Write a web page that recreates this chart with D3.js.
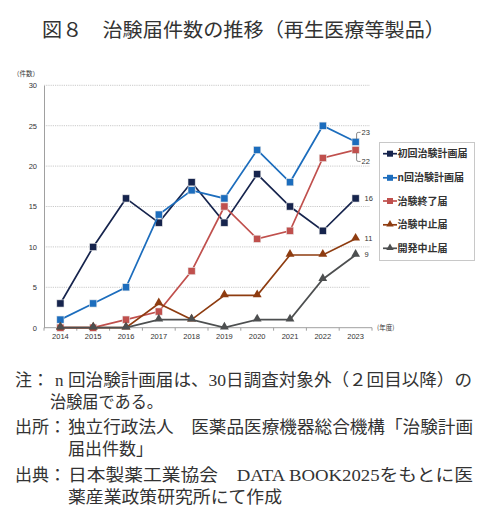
<!DOCTYPE html>
<html><head>
<meta charset="utf-8">
<script src="https://cdnjs.cloudflare.com/ajax/libs/d3/7.8.5/d3.min.js"></script>
<style>
  body { margin: 0; background: #fff; }
  .tick-label { font-family: "Liberation Sans", Arial, sans-serif; font-size: 7.5px; fill: #333; }
  .legend-text { font-family: "Noto Sans CJK JP", sans-serif; font-size: 10px; font-weight: bold; fill: #333; }
  .note { font-family: "Liberation Serif", "Noto Sans CJK JP", serif; font-size: 17px; fill: #333; font-weight: normal; }
</style>
</head>
<body>
<script>
// data
var years = ["2014", "2015", "2016", "2017", "2018", "2019", "2020", "2021", "2022", "2023"];
var firstPlan = [3, 10, 16, 13, 18, 13, 19, 15, 12, 16];
var nthPlan = [1, 3, 5, 14, 17, 16, 22, 18, 25, 23];
var endNotice = [0, 0, 1, 2, 7, 15, 11, 12, 21, 22];
var stopNotice = [0, 0, 0, 3, 1, 4, 4, 9, 9, 11];
var devStop = [0, 0, 0, 1, 1, 0, 1, 1, 6, 9];
var seriesNames = ["初回治験計画届", "n回治験計画届", "治験終了届", "治験中止届", "開発中止届"];
var yTicks = [0, 5, 10, 15, 20, 25, 30];

var colors = ["#16244d", "#1c6dbd", "#c0504d", "#8e3c10", "#4d4f50"];
var shapes = ["square", "square", "square", "triangle", "triangle"];
var allSeries = [firstPlan, nthPlan, endNotice, stopNotice, devStop];

var svg = d3.select("body").append("svg")
    .attr("width", 500)
    .attr("height", 528);

var plotLeft = 44, plotRight = 372, plotTop = 85.3, plotBottom = 327.7;

var x = d3.scalePoint().domain(years).range([plotLeft, plotRight]).padding(0.5);
var y = d3.scaleLinear().domain([0, 30]).range([plotBottom, plotTop]);

// title
svg.append("text")
    .attr("x", 42).attr("y", 37)
    .attr("textLength", 403).attr("lengthAdjust", "spacingAndGlyphs")
    .style("font-family", "'Noto Sans CJK JP', sans-serif")
    .style("font-size", "19.5px")
    .style("fill", "#333")
    .text("図８　治験届件数の推移（再生医療等製品）");

// gridlines
svg.append("g").selectAll("line")
    .data(yTicks.filter(function(d) { return d > 0; }))
    .enter().append("line")
    .attr("x1", plotLeft).attr("x2", 370)
    .attr("y1", function(d) { return y(d); })
    .attr("y2", function(d) { return y(d); })
    .attr("stroke", "#bdbdbd")
    .attr("stroke-width", 0.8)
    .attr("stroke-dasharray", "1.2,1");

// y axis
var yAxis = d3.axisLeft(y).tickValues(yTicks).tickSize(0).tickPadding(7);
var gy = svg.append("g").attr("transform", "translate(" + plotLeft + ",0)").call(yAxis);
gy.select(".domain").attr("stroke", "#a0a0a0").attr("stroke-width", 1);
gy.selectAll("text").attr("class", "tick-label").attr("font-family", null).attr("font-size", null);

// x axis: ticks at category boundaries
var step = x.step();
var gx = svg.append("g").attr("transform", "translate(0," + plotBottom + ")");
gx.append("line").attr("x1", plotLeft).attr("x2", plotRight).attr("stroke", "#a0a0a0").attr("stroke-width", 1);
gx.selectAll("line.tk").data(d3.range(years.length + 1)).enter().append("line")
    .attr("class", "tk")
    .attr("x1", function(i) { return plotLeft + i * step; })
    .attr("x2", function(i) { return plotLeft + i * step; })
    .attr("y1", 0).attr("y2", 3)
    .attr("stroke", "#a0a0a0");
gx.selectAll("text").data(years).enter().append("text")
    .attr("class", "tick-label")
    .attr("x", function(d) { return x(d); })
    .attr("y", 11.5)
    .attr("text-anchor", "middle")
    .text(function(d) { return d; });

// axis unit labels
svg.append("text").attr("class", "tick-label")
    .attr("x", 13).attr("y", 75.5)
    .style("font-size", "6.5px")
    .style("font-family", "'Noto Sans CJK JP', sans-serif")
    .text("（件数）");
svg.append("text").attr("class", "tick-label")
    .attr("x", 377).attr("y", 329.5)
    .style("font-size", "6.5px")
    .style("font-family", "'Noto Sans CJK JP', sans-serif")
    .text("(年度)");

// lines and markers
var line = d3.line()
    .x(function(d, i) { return x(years[i]); })
    .y(function(d) { return y(d); });

var tri = d3.symbol().type(d3.symbolTriangle).size(34);

allSeries.forEach(function(vals, k) {
    var g = svg.append("g");
    g.append("path")
        .attr("d", line(vals))
        .attr("fill", "none")
        .attr("stroke", colors[k])
        .attr("stroke-width", 1.7);
    if (shapes[k] === "square") {
        g.selectAll("rect").data(vals).enter().append("rect")
            .attr("x", function(d, i) { return x(years[i]) - 3.6; })
            .attr("y", function(d) { return y(d) - 3.6; })
            .attr("width", 7.2).attr("height", 7.2)
            .attr("fill", colors[k])
            .attr("stroke", "#e8e8e8")
            .attr("stroke-width", 0.6);
    } else {
        g.selectAll("path.m").data(vals).enter().append("path")
            .attr("class", "m")
            .attr("d", tri)
            .attr("transform", function(d, i) { return "translate(" + x(years[i]) + "," + (y(d) - 0.8) + ")"; })
            .attr("fill", colors[k]);
    }
});

// end value labels
var lastX = x(years[years.length - 1]);
var lab = svg.append("g");
function endLabel(v, dy) {
    lab.append("text").attr("class", "tick-label")
        .attr("x", lastX + 9).attr("y", y(v) + dy)
        .text(v);
}
// leader for 23 and 22
lab.append("path")
    .attr("d", "M" + (lastX + 1) + "," + (y(nthPlan[9]) - 3) + " V" + (y(nthPlan[9]) - 8) +
        " Q" + (lastX + 1) + "," + (y(nthPlan[9]) - 9.5) + " " + (lastX + 3) + "," + (y(nthPlan[9]) - 9.5) + " H" + (lastX + 5))
    .attr("fill", "none").attr("stroke", "#555").attr("stroke-width", 0.7);
lab.append("path")
    .attr("d", "M" + (lastX + 1) + "," + (y(endNotice[9]) + 3) + " V" + (y(endNotice[9]) + 10) +
        " Q" + (lastX + 1) + "," + (y(endNotice[9]) + 11.5) + " " + (lastX + 3) + "," + (y(endNotice[9]) + 11.5) + " H" + (lastX + 5))
    .attr("fill", "none").attr("stroke", "#555").attr("stroke-width", 0.7);
lab.append("text").attr("class", "tick-label").attr("x", lastX + 6).attr("y", y(nthPlan[9]) - 6.5).text(nthPlan[9]);
lab.append("text").attr("class", "tick-label").attr("x", lastX + 6).attr("y", y(endNotice[9]) + 14.5).text(endNotice[9]);
endLabel(firstPlan[9], 2.5);
endLabel(stopNotice[9], 2.5);
endLabel(devStop[9], 2.5);

// legend
var lg = svg.append("g");
lg.append("rect")
    .attr("x", 379.5).attr("y", 142.5).attr("width", 95).attr("height", 118)
    .attr("fill", "#fff").attr("stroke", "#c8c8c8").attr("stroke-width", 1);
var legendY = [153.7, 177.8, 201, 224.8, 248.3];
seriesNames.forEach(function(name, k) {
    var cy = legendY[k];
    lg.append("line").attr("x1", 383).attr("x2", 397).attr("y1", cy).attr("y2", cy)
        .attr("stroke", colors[k]).attr("stroke-width", 1.7);
    if (shapes[k] === "square") {
        lg.append("rect").attr("x", 387).attr("y", cy - 3).attr("width", 6).attr("height", 6)
            .attr("fill", colors[k]);
    } else {
        lg.append("path").attr("d", d3.symbol().type(d3.symbolTriangle).size(24))
            .attr("transform", "translate(390," + (cy - 0.5) + ")")
            .attr("fill", colors[k]);
    }
    lg.append("text").attr("class", "legend-text")
        .attr("x", 397.5).attr("y", cy + 3.6)
        .text(name);
});

// notes
var notes = svg.append("g");
function note(xp, yp, txt, len) {
    var t = notes.append("text").attr("class", "note").attr("x", xp).attr("y", yp).text(txt);
    if (len) t.attr("textLength", len).attr("lengthAdjust", "spacingAndGlyphs");
}
note(15, 386, "注：", 34);
note(55, 386, "n");
note(68, 386, "回治験計画届は、30日調査対象外（２回目以降）の", 404);
note(50, 408, "治験届である。", 113);
note(15, 433, "出所：", 51);
note(68, 433, "独立行政法人　医薬品医療機器総合機構「治験計画", 405);
note(68, 455, "届出件数」", 85);
note(15, 481, "出典：", 51);
note(68, 481, "日本製薬工業協会　DATA BOOK2025をもとに医", 405);
note(68, 503, "薬産業政策研究所にて作成", 214);
</script>
</body></html>
